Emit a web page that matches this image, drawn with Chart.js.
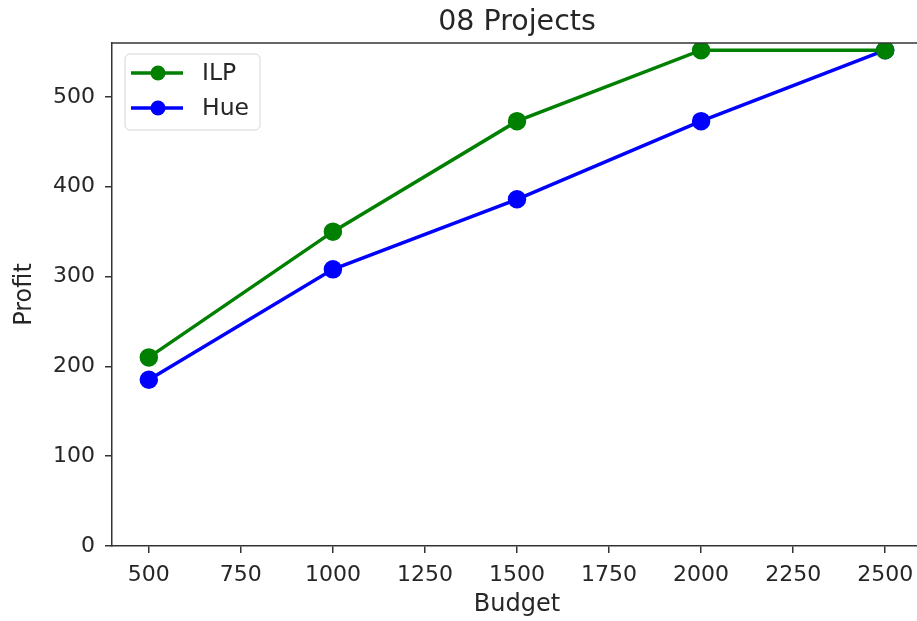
<!DOCTYPE html>
<html>
<head>
<meta charset="utf-8">
<script src="https://cdn.jsdelivr.net/npm/chart.js@4.4.1/dist/chart.umd.min.js"></script>
<style>
  html, body { margin: 0; padding: 0; background: #fff; overflow: hidden; }
  #wrap { width: 945px; height: 621px; }
</style>
</head>
<body>
<div id="wrap"><canvas id="chart" width="945" height="621"></canvas></div>
<script>
// ============================================================
// Data
// ============================================================
const budgets = [500, 1000, 1500, 2000, 2500];
const ilpProfit = [210, 350, 473, 552, 552];
const hueProfit = [185, 308, 386, 473, 552];
const budgetTicks = [500, 750, 1000, 1250, 1500, 1750, 2000, 2250, 2500];
const profitTicks = [0, 100, 200, 300, 400, 500];
const chartTitle = '08 Projects';

const FONT = 'DejaVu Sans';
const TEXT = '#262626';
const SPINE = '#333333';

const toPoints = ys => budgets.map((x, i) => ({ x, y: ys[i] }));

// ============================================================
// Title over the axes, top spine, matplotlib style legend box
// ============================================================
const mplExtras = {
  id: 'mplExtras',
  afterDraw(chart) {
    const { ctx, chartArea: a } = chart;
    ctx.save();
    // title centred over the axes box
    ctx.fillStyle = TEXT;
    ctx.font = `28.5px "${FONT}"`;
    ctx.textAlign = 'center';
    ctx.textBaseline = 'alphabetic';
    ctx.fillText(chartTitle, (a.left + a.right) / 2, 30);

    // top spine
    ctx.strokeStyle = SPINE;
    ctx.lineWidth = 1.5;
    ctx.beginPath();
    ctx.moveTo(a.left, a.top);
    ctx.lineTo(a.right, a.top);
    ctx.stroke();

    // legend
    const bx = a.left + 13, by = a.top + 11, bw = 135, bh = 76, r = 5;
    ctx.fillStyle = 'rgba(255,255,255,0.8)';
    ctx.strokeStyle = '#d6d6d6';
    ctx.lineWidth = 1;
    ctx.beginPath();
    ctx.roundRect(bx, by, bw, bh, r);
    ctx.fill();
    ctx.stroke();

    ctx.font = `23.5px "${FONT}"`;
    ctx.textAlign = 'left';
    ctx.textBaseline = 'middle';
    chart.data.datasets.forEach((ds, i) => {
      const y = by + 19 + i * 35;
      ctx.strokeStyle = ds.borderColor;
      ctx.lineWidth = 3.5;
      ctx.beginPath();
      ctx.moveTo(bx + 6, y);
      ctx.lineTo(bx + 58, y);
      ctx.stroke();
      ctx.fillStyle = ds.backgroundColor;
      ctx.beginPath();
      ctx.arc(bx + 33, y, 7.5, 0, Math.PI * 2);
      ctx.fill();
      ctx.fillStyle = TEXT;
      ctx.fillText(ds.label, bx + 77, y + 1);
    });
    ctx.restore();
  }
};

const lineStyle = color => ({
  borderColor: color,
  backgroundColor: color,
  pointBackgroundColor: color,
  pointBorderColor: color,
  borderWidth: 3.5,
  pointRadius: 7.5,
  pointHoverRadius: 7.5,
  tension: 0
});

new Chart(document.getElementById('chart'), {
  type: 'line',
  data: {
    datasets: [
      { label: 'ILP', data: toPoints(ilpProfit), ...lineStyle('#008000') },
      { label: 'Hue', data: toPoints(hueProfit), ...lineStyle('#0000ff') }
    ]
  },
  options: {
    responsive: false,
    animation: false,
    devicePixelRatio: 1,
    layout: { padding: { left: 0, right: 23, top: 43, bottom: 0 } },
    plugins: {
      legend: { display: false },
      tooltip: { enabled: false },
      title: { display: false }
    },
    scales: {
      x: {
        type: 'linear',
        min: 400,
        max: 2600,
        afterBuildTicks: s => { s.ticks = budgetTicks.map(v => ({ value: v })); },
        afterFit: s => { s.height = 75; },
        ticks: { color: TEXT, padding: 9, font: { family: FONT, size: 22 }, callback: v => String(v) },
        grid: { drawOnChartArea: false, drawTicks: true, tickLength: 7, color: SPINE, lineWidth: 1.5 },
        border: { display: true, color: SPINE, width: 1.5 },
        title: {
          display: true,
          text: 'Budget',
          color: TEXT,
          font: { family: FONT, size: 24 },
          padding: { top: 0, bottom: 2 }
        }
      },
      y: {
        min: 0,
        max: 560,
        afterBuildTicks: s => { s.ticks = profitTicks.map(v => ({ value: v })); },
        afterFit: s => { s.width = 112; },
        ticks: { color: TEXT, padding: 10, font: { family: FONT, size: 22 }, callback: v => String(v) },
        grid: { drawOnChartArea: false, drawTicks: true, tickLength: 7, color: SPINE, lineWidth: 1.5 },
        border: { display: true, color: SPINE, width: 1.5 },
        title: {
          display: true,
          text: 'Profit',
          color: TEXT,
          font: { family: FONT, size: 24 },
          padding: { top: 10, bottom: 0 }
        }
      }
    }
  },
  plugins: [mplExtras]
});
</script>
</body>
</html>
